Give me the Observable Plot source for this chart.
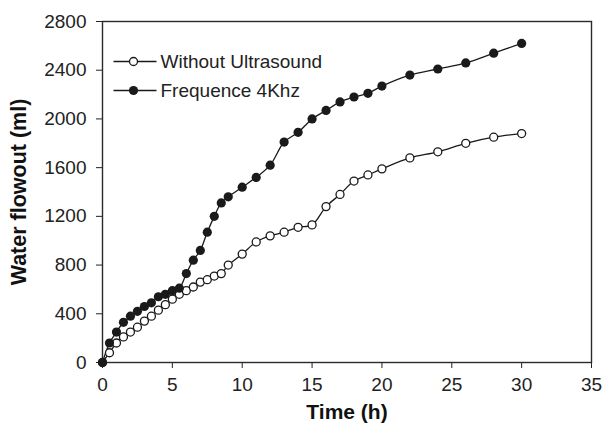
<!DOCTYPE html>
<html><head><meta charset="utf-8">
<script src="https://cdn.jsdelivr.net/npm/d3@7"></script>
<script src="https://cdn.jsdelivr.net/npm/@observablehq/plot@0.6"></script>
<style>body{margin:0;background:#fff}</style>
</head><body><div id="chart"></div>
<script>
const timeH = [0,0.5,1,1.5,2,2.5,3,3.5,4,4.5,5,5.5,6,6.5,7,7.5,8,8.5,9,10,11,12,13,14,15,16,17,18,19,20,22,24,26,28,30];
const withoutUltrasound = [0,80,160,210,250,290,340,380,430,475,520,560,590,620,660,680,710,730,800,890,990,1040,1070,1110,1130,1280,1380,1490,1540,1590,1680,1730,1800,1850,1880];
const frequence4Khz = [0,160,250,330,380,420,460,490,540,560,590,610,730,840,920,1070,1200,1310,1360,1440,1520,1620,1810,1890,2000,2070,2140,2180,2210,2270,2360,2410,2460,2540,2620];
const seriesNames = ["Without Ultrasound", "Frequence 4Khz"];
const xTicks = [0,5,10,15,20,25,30,35];
const yTicks = [0,400,800,1200,1600,2000,2400,2800];
const xTitle = "Time (h)";
const yTitle = "Water flowout (ml)";

const rowsA = timeH.map((t, i) => ({t, v: withoutUltrasound[i]}));
const rowsB = timeH.map((t, i) => ({t, v: frequence4Khz[i]}));
const ink = "#1a1a1a";
const legendLine = {draw(ctx) { ctx.moveTo(-20, 0); ctx.lineTo(23, 0); }};

function legendEntry(name, dy, filled) {
  return [
    Plot.dot([name], {frameAnchor: "top-left", dx: 31, dy, symbol: legendLine, r: 4, stroke: ink, strokeWidth: 1.3, fill: "none"}),
    filled
      ? Plot.dot([name], {frameAnchor: "top-left", dx: 31, dy, r: 4.6, fill: ink})
      : Plot.dot([name], {frameAnchor: "top-left", dx: 31, dy, r: 4, fill: "white", stroke: ink, strokeWidth: 1.3}),
    Plot.text([name], {frameAnchor: "top-left", dx: 58, dy, textAnchor: "start", lineAnchor: "middle", fill: "#222", fontSize: 19})
  ];
}

const chart = Plot.plot({
  width: 606, height: 425,
  marginLeft: 102, marginRight: 15, marginTop: 21, marginBottom: 63,
  style: {fontFamily: "'Liberation Sans', Arial, sans-serif", fontSize: "19px", color: "#222", background: "white"},
  x: {domain: [0, 35]},
  y: {domain: [0, 2800]},
  marks: [
    Plot.axisX(xTicks, {tickSize: 6, tickPadding: 9, label: null, stroke: "#222", tickFormat: d3.format("d")}),
    Plot.axisY(yTicks, {tickSize: 6, tickPadding: 10, label: null, stroke: "#222", tickFormat: d3.format("d")}),
    Plot.frame({stroke: "#2a2a2a", strokeWidth: 1.4}),
    Plot.line(rowsA, {x: "t", y: "v", curve: "catmull-rom", stroke: ink, strokeWidth: 1.3}),
    Plot.line(rowsB, {x: "t", y: "v", curve: "catmull-rom", stroke: ink, strokeWidth: 1.3}),
    Plot.dot(rowsA, {x: "t", y: "v", r: 4, fill: "white", stroke: ink, strokeWidth: 1.3}),
    Plot.dot(rowsB, {x: "t", y: "v", r: 4.6, fill: ink, stroke: "none"}),
    ...legendEntry(seriesNames[0], 40, false),
    ...legendEntry(seriesNames[1], 69, true),
    Plot.text([xTitle], {frameAnchor: "bottom", dy: 50, lineAnchor: "middle", textAnchor: "middle", fontWeight: "bold", fontSize: 21, fill: "#111"}),
    Plot.text([yTitle], {frameAnchor: "left", dx: -83, rotate: -90, lineAnchor: "middle", textAnchor: "middle", fontWeight: "bold", fontSize: 21.5, fill: "#111"})
  ]
});
document.getElementById("chart").append(chart);
</script>
</body></html>
